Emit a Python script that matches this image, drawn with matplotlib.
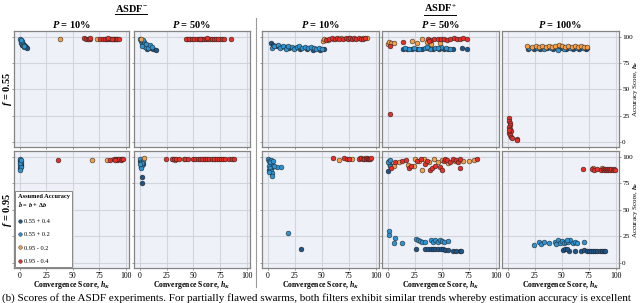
import matplotlib
matplotlib.use("Agg")
import matplotlib.pyplot as plt
from matplotlib.lines import Line2D

# ---------------- data ----------------
series_labels = ["0.55 + 0.4", "0.55 + 0.2", "0.95 - 0.2", "0.95 - 0.4"]
series_colors = ["#1e5486", "#2d93d2", "#f4a04a", "#e4302a"]
col_titles = [r"$P$ = 10%", r"$P$ = 50%", r"$P$ = 10%", r"$P$ = 50%", r"$P$ = 100%"]
row_titles = [r"$f$ = 0.55", r"$f$ = 0.95"]
ticks = [0, 25, 50, 75, 100]

# Row f=0.55 -------------------------------------------------
# ASDF- P=10%
T1_DB = [(1, 97), (2, 95), (3, 93), (4, 92), (5, 91), (6, 90), (7, 89.5), (2, 92)]
T1_LB = [(0.5, 98), (1, 96), (1.5, 94), (2, 93), (3, 92), (1, 95), (2.5, 96), (4, 90), (3.5, 91), (1.5, 97)]
T1_OR = [(38, 98), (66, 98), (72.5, 98), (81, 98), (90, 98)]
T1_RD = [(61, 98.5), (62, 97.5), (64, 98), (65, 98), (66.5, 98.5), (76, 98), (78, 98), (80, 98), (82, 98),
         (84, 98), (86, 98), (88, 98), (89, 98), (91, 98), (92, 98), (94, 98), (83, 98.5), (87, 97.5)]
# ASDF- P=50%
T2_DB = [(1, 97), (2, 95), (3, 93), (5, 92), (6, 90), (8, 91), (10, 89), (12, 88), (15, 87), (4, 94), (7, 88)]
T2_LB = [(0, 98), (1, 96), (2, 94), (3, 92), (4, 95), (5, 90), (6, 93), (8, 89), (9, 92), (11, 90), (2, 91), (3, 97)]
T2_OR = [(1, 98), (44, 98), (47, 98), (58, 98), (66, 98), (75, 98)]
T2_RD = [(43, 98), (46, 98), (49, 98), (51, 98), (53, 98), (55, 98), (57, 98), (60, 98), (62, 98), (64, 98),
         (67, 98), (69, 98), (71, 98), (73, 98), (77, 98), (79, 98), (85, 98), (56, 97.5), (63, 98.5)]
# ASDF+ P=10%
T3_DB = [(3, 94), (5, 92), (8, 91), (12, 90), (16, 90), (20, 89), (25, 89), (30, 88), (36, 88), (42, 87),
         (48, 87), (52, 88.5)]
T3_LB = [(4, 89), (6, 91), (9, 92), (11, 89), (14, 91), (17, 88), (19, 91), (22, 90), (24, 88), (27, 90),
         (29, 91), (32, 89), (34, 90), (37, 89), (40, 90), (43, 89), (45, 88), (47, 89.5), (50, 88)]
T3_OR = [(51, 96), (52, 98), (56, 97), (60, 98), (68, 99), (75, 98.5), (88, 98.5), (92, 99)]
T3_RD = [(54, 96.5), (57, 98), (59, 99), (62, 98), (64, 98.5), (66, 98), (70, 98), (72, 98.5), (74, 98),
         (76, 99), (78, 98), (80, 98.5), (82, 98), (84, 99), (86, 98), (88, 98), (90, 99)]
# ASDF+ P=50%
T4_DB = [(14, 88), (18, 88), (22, 88), (27, 88.5), (32, 88), (37, 89), (42, 88), (47, 88), (52, 88.5),
         (56, 88), (60, 88), (69, 89), (73, 88)]
T4_LB = [(16, 89), (20, 88.5), (24, 89), (29, 88), (34, 89), (39, 88.5), (44, 89), (49, 90), (54, 89),
         (58, 88.5), (36, 90), (46, 89.5)]
T4_OR = [(0, 93), (1, 95), (3, 94), (6, 94), (22, 96), (32, 98), (27, 94), (36, 95), (40, 93), (48, 94)]
T4_RD = [(2, 91), (14, 95), (2, 26), (37, 98), (40, 97), (43, 98), (46, 97.5), (49, 98), (52, 98), (55, 97),
         (58, 98), (61, 98.5), (64, 98), (67, 98), (70, 98.5), (73, 98), (38, 96)]
# ASDF+ P=100%
T5_DB = [(19, 88), (24, 88.5), (30, 88), (36, 89), (42, 88), (48, 89), (54, 88), (60, 88.5), (66, 88),
         (72, 88.5), (73, 89)]
T5_LB = [(20, 89), (27, 89.5), (33, 88.5), (40, 89), (46, 87), (52, 88), (58, 89), (64, 89.5), (70, 89)]
T5_OR = [(18, 91), (22, 90), (26, 91), (29, 90.5), (32, 91), (35, 90), (38, 91), (41, 90.5), (44, 91),
         (47, 92), (50, 91), (53, 90), (56, 91), (59, 90.5), (62, 91), (65, 90), (68, 91), (71, 90.5), (73, 90)]
T5_RD = [(1, 23), (1, 20), (2, 18), (2, 16), (1, 14), (2, 12), (3, 10), (1, 8), (2, 6), (3, 5), (4, 4),
         (1, 11), (8, 3), (8, 2)]

# Row f=0.95 -------------------------------------------------
B1_DB = [(0, 97), (0.5, 94), (1, 91), (0, 89), (1, 93), (0.5, 96)]
B1_LB = [(0, 98), (1, 95), (0.5, 92), (1, 90), (0, 88), (0.5, 94), (1, 97)]
B1_OR = [(68, 97), (82.5, 97), (95, 98)]
B1_RD = [(36, 97), (85, 97), (89, 97.5), (91, 98), (92, 97), (93, 98), (94, 97.5), (95, 97), (96, 98),
         (97, 97.5), (90, 97)]

B2_DB = [(2, 81), (2, 75), (0, 96), (1, 90), (3, 93)]
B2_LB = [(0, 98), (1, 95), (2, 92), (3, 96), (1, 89), (2, 94), (0, 93)]
B2_OR = [(4, 99), (31, 98), (33, 97), (41, 98), (60, 98), (70, 97.5)]
B2_RD = [(24, 98), (30, 98), (32, 98), (34, 98), (37, 98), (42, 98), (45, 98), (50, 98), (52, 97.5),
         (54, 98), (56, 98), (58, 97.5), (61, 98), (63, 98), (65, 98), (67, 98), (69, 98), (72, 98),
         (74, 98), (76, 98), (78, 98), (80, 98), (83, 98), (86, 98), (88, 98)]

B3_DB = [(30.7, 13), (1, 97), (3, 95), (2, 92), (1, 88), (4, 90)]
B3_LB = [(0, 98), (1, 96), (2, 94), (3, 97), (4, 93), (1, 91), (2, 89), (3, 87), (4, 85), (3.5, 82),
         (12, 90), (8, 90), (6, 91), (19, 28.5), (2, 95), (5, 96), (1, 86)]
B3_OR = [(66, 97), (78, 98), (85, 99), (90, 98.5)]
B3_RD = [(60, 98.5), (71, 98.5), (73, 98), (75.6, 97.5), (84, 98), (86, 98.5), (88, 98), (89, 97.5),
         (91, 98), (92, 98.5), (93, 98), (94, 97.5), (95, 98), (96, 98.5)]

B4_DB = [(0.8, 96), (0, 87), (2, 92), (26, 13), (34, 12.5), (37, 12.5), (40, 13), (42, 13), (44, 13),
         (46, 12.5), (49, 13), (51, 12.5), (53, 12), (56, 12), (60, 11.5), (63, 11.5), (67, 11), (68, 11.5)]
B4_LB = [(1, 94), (2, 91), (0, 95), (1.5, 97), (1, 30), (1, 26), (7, 23), (6, 18.5), (13, 18.5),
         (26, 22.5), (28, 21), (30, 20.5), (32, 20), (34, 19.5), (40, 21), (42, 20), (44, 21.5), (46, 20),
         (48, 21), (50, 20.5), (52, 19.5), (56, 20.5)]
B4_OR = [(6, 91), (10, 95), (19, 92), (25, 98), (29, 96), (33, 97.5), (38, 95), (43, 98), (46, 95),
         (50, 97), (56, 94), (62, 96), (70, 96), (75, 96), (80, 97), (24, 91), (32, 88)]
B4_RD = [(3, 89), (7, 95), (13, 96), (17, 97), (20, 89), (21, 91), (27, 96), (31, 98), (34, 93), (36, 96),
         (39, 88), (41, 89), (44, 91), (48, 90), (50, 88), (52, 96), (53, 98), (55, 97), (58, 95), (60, 98),
         (63, 97), (65, 95), (67, 89), (67, 98), (83, 98)]

B5_DB = [(51, 12), (53, 12.5), (57, 11.5), (62, 11.5), (68, 11.5), (71, 12), (73, 11.5), (75, 11.5),
         (77, 11), (79, 11.5), (81, 11), (83, 11.5), (85, 11), (87, 11), (89, 11.5), (90, 11), (55, 13)]
B5_LB = [(24, 17), (29, 20), (31, 17.5), (33, 19.5), (38, 18.5), (44, 20), (46, 21), (48, 19), (50, 20.5),
         (52, 18.5), (54, 20), (56, 19.5), (58, 21), (60, 19), (62, 20), (64, 18.5), (71, 20), (45, 18), (55, 21)]
B5_OR = [(79, 89), (87, 89)]
B5_RD = [(69.4, 88.5), (78, 88.5), (80, 88), (83, 88.5), (86, 88), (88, 88.5), (89, 88), (90, 88.5),
         (91, 88), (92, 88.5), (93, 88), (94, 88.5), (95, 88), (96, 88.5), (97, 88), (98, 88.5), (99, 88)]

panels = [
    [(T1_DB, T1_LB, T1_OR, T1_RD), (T2_DB, T2_LB, T2_OR, T2_RD), (T3_DB, T3_LB, T3_OR, T3_RD),
     (T4_DB, T4_LB, T4_OR, T4_RD), (T5_DB, T5_LB, T5_OR, T5_RD)],
    [(B1_DB, B1_LB, B1_OR, B1_RD), (B2_DB, B2_LB, B2_OR, B2_RD), (B3_DB, B3_LB, B3_OR, B3_RD),
     (B4_DB, B4_LB, B4_OR, B4_RD), (B5_DB, B5_LB, B5_OR, B5_RD)],
]

# ---------------- style ----------------
plt.rcParams['font.family'] = ['Liberation Serif', 'DejaVu Serif']
plt.rcParams['mathtext.fontset'] = 'custom'
plt.rcParams['mathtext.rm'] = 'Liberation Serif:bold'
plt.rcParams['mathtext.it'] = 'Liberation Serif:italic:bold'
plt.rcParams['mathtext.bf'] = 'Liberation Serif:bold'

W, H = 640, 303
fig = plt.figure(figsize=(W / 100, H / 100), dpi=100)

col_px = [(14, 129), (134, 250), (262, 379), (382, 499), (502, 619)]
row_px = [(31, 147), (151, 268)]

bg = '#eef2f8'
grid_c = '#d2d6dc'
spine_c = '#858585'

axes = [[None] * 5 for _ in range(2)]
for r, (yt, yb) in enumerate(row_px):
    for c, (xl, xr) in enumerate(col_px):
        ax = fig.add_axes([xl / W, 1 - yb / H, (xr - xl) / W, (yb - yt) / H])
        axes[r][c] = ax
        ax.set_facecolor(bg)
        ax.set_xlim(-5.5, 103)
        ax.set_ylim(-5, 105.5)
        ax.set_xticks(ticks)
        ax.set_yticks(ticks)
        ax.grid(True, color=grid_c, lw=0.8)
        ax.set_axisbelow(True)
        for s in ax.spines.values():
            s.set_color(spine_c)
            s.set_linewidth(0.9)
        ax.tick_params(axis='both', length=1.5, width=0.6, color=spine_c, labelsize=5.6, pad=1.2)
        if r == 0:
            ax.tick_params(axis='x', labelbottom=False)
        else:
            ax.set_xlabel(r"Convergence Score, $h_K$", fontsize=5.6, fontweight='bold', labelpad=-0.5)
        if c == 4:
            ax.yaxis.tick_right()
            ax.yaxis.set_label_position('right')
            ax.tick_params(axis='y', labelsize=5.2, pad=0.8)
            ax.set_ylabel(r"Accuracy Score, $h_\alpha$", fontsize=5.0, va='center')
            ax.yaxis.set_label_coords((636 - xl) / (xr - xl), 0.5)
        else:
            ax.tick_params(axis='y', labelleft=False)
        for k, pts in enumerate(panels[r][c]):
            xs = [p[0] for p in pts]
            ys = [p[1] for p in pts]
            ax.scatter(xs, ys, s=12, c=series_colors[k], edgecolors='#202020', linewidths=0.35, zorder=3 + k)

# column titles
for c, (xl, xr) in enumerate(col_px):
    fig.text((xl + xr) / 2 / W, 1 - 24 / H, col_titles[c], ha='center', va='center', fontsize=7.5,
             fontweight='bold')

# row titles
for r, (yt, yb) in enumerate(row_px):
    fig.text(7 / W, 1 - (yt + yb) / 2 / H, row_titles[r], ha='center', va='center', rotation=90,
             fontsize=7.5, fontweight='bold')

# group titles
g1 = fig.text(131 / W, 1 - 8 / H, r"ASDF$^{-}$", ha='center', va='center', fontsize=7.5, fontweight='bold')
g2 = fig.text(440 / W, 1 - 8 / H, r"ASDF$^{+}$", ha='center', va='center', fontsize=7.5, fontweight='bold')

# separator
fig.add_artist(Line2D([256 / W, 256 / W], [1 - 18 / H, 1 - 287 / H], transform=fig.transFigure,
                      color='#9a9a9a', lw=0.8))

# legend
handles = [Line2D([], [], marker='o', ls='none', markersize=2.6, markerfacecolor=col,
                  markeredgecolor='#202020', markeredgewidth=0.3) for col in series_colors]
leg = axes[1][0].legend(handles, series_labels, loc='lower left', fontsize=4.6,
                        title="Assumed Accuracy\n" + r"$\hat{b}$ = $b$ + $\Delta b$",
                        title_fontsize=4.6, frameon=True, fancybox=False, borderaxespad=0.2,
                        handletextpad=0.2, handlelength=0.8, labelspacing=1.25, borderpad=0.4,
                        edgecolor='#888888', facecolor='white', framealpha=1)
leg.get_title().set_fontweight('bold')
leg._legend_box.align = 'left'
leg.get_frame().set_linewidth(0.7)

# caption
fig.text(0.003, 1 - 298 / H,
         "(b) Scores of the ASDF experiments. For partially flawed swarms, both filters exhibit similar "
         "trends whereby estimation accuracy is excellent",
         ha='left', va='center', fontsize=8.0)

# underline group titles
fig.canvas.draw()
rend = fig.canvas.get_renderer()
for t in (g1, g2):
    bb = t.get_window_extent(rend).transformed(fig.transFigure.inverted())
    fig.add_artist(Line2D([bb.x0, bb.x1], [bb.y0 - 0.003, bb.y0 - 0.003], transform=fig.transFigure,
                          color='black', lw=0.7))

fig.savefig("out.png", dpi=100)
